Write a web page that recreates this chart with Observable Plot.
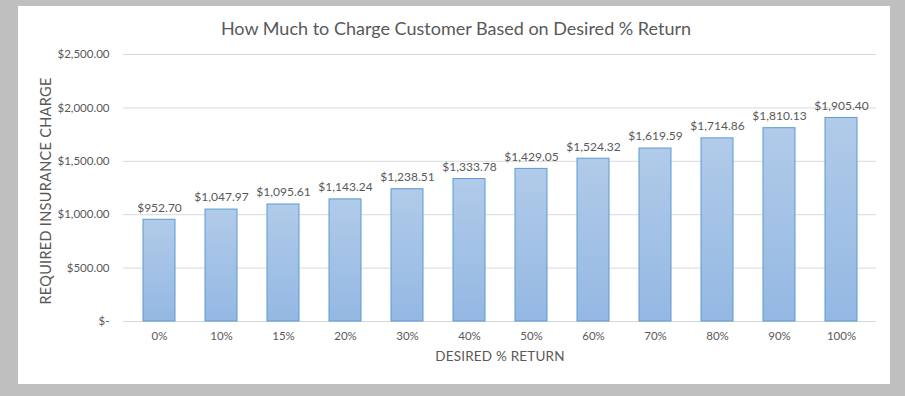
<!DOCTYPE html>
<html><head><meta charset="utf-8">
<script src="https://cdn.jsdelivr.net/npm/d3@7"></script>
<script src="https://cdn.jsdelivr.net/npm/@observablehq/plot@0.6"></script>
<style>
html,body{margin:0;padding:0;background:#bfbfbf;width:905px;height:396px;overflow:hidden;font-family:Lato,"Liberation Sans",sans-serif;}
#panel{position:absolute;left:18px;top:6px;width:872px;height:378px;background:#fff;}
#title{position:absolute;left:0;width:876px;top:11px;text-align:center;font-size:18px;color:#595959;}
#xlab{position:absolute;left:392px;width:180px;top:342px;text-align:center;font-size:13.5px;color:#595959;letter-spacing:0.2px;}
#ylab{position:absolute;left:27px;top:185px;width:0;height:0;}
#ylab span{position:absolute;transform:translate(-50%,-50%) rotate(-90deg);white-space:nowrap;font-size:14.5px;color:#595959;letter-spacing:0.3px;}
#chart{position:absolute;left:0;top:0;}
</style></head>
<body>
<div id="panel">
  <div id="chart"></div>
  <div id="title">How Much to Charge Customer Based on Desired % Return</div>
  <div id="xlab">DESIRED % RETURN</div>
  <div id="ylab"><span>REQUIRED INSURANCE CHARGE</span></div>
</div>
<script>
const returns = ["0%","10%","15%","20%","30%","40%","50%","60%","70%","80%","90%","100%"];
const charges = [952.70,1047.97,1095.61,1143.24,1238.51,1333.78,1429.05,1524.32,1619.59,1714.86,1810.13,1905.40];
const yTicks = [0,500,1000,1500,2000,2500];

const data = returns.map((r,i)=>({ret:r, charge:charges[i]}));
const money = d3.format(",.2f");
const fmtTick = v => v === 0 ? "$-" : "$" + money(v);

const plot = Plot.plot({
  width: 872, height: 378,
  marginLeft: 105, marginRight: 14, marginTop: 48, marginBottom: 63,
  style: {fontFamily: "Lato, 'Liberation Sans', sans-serif", fontSize: "11.5px", color: "#595959", background: "transparent"},
  x: {domain: returns, paddingInner: 0.49, paddingOuter: 0.245, align: 0.5, label: null, tickSize: 0, tickPadding: 10},
  y: {domain: [0,2500], ticks: yTicks, tickFormat: fmtTick, label: null, tickSize: 0, tickPadding: 14, grid: false},
  marks: [
    () => {
      const ns = "http://www.w3.org/2000/svg";
      const defs = document.createElementNS(ns, "defs");
      defs.innerHTML = '<linearGradient id="barGrad" x1="0" y1="0" x2="0" y2="1"><stop offset="0" stop-color="#b1cbe9"/><stop offset="1" stop-color="#94b8e3"/></linearGradient>';
      return defs;
    },
    Plot.ruleY(yTicks, {stroke: "#d9d9d9", strokeWidth: 1, strokeOpacity: 1}),
    Plot.barY(data, {x: "ret", y: "charge", fill: "url(#barGrad)", stroke: "#5b9bd5", strokeWidth: 1}),
    Plot.text(data, {x: "ret", y: "charge", text: d => "$" + money(d.charge), dy: -12, fill: "#595959", fontSize: 12})
  ]
});
document.getElementById("chart").appendChild(plot);
</script>
</body></html>
